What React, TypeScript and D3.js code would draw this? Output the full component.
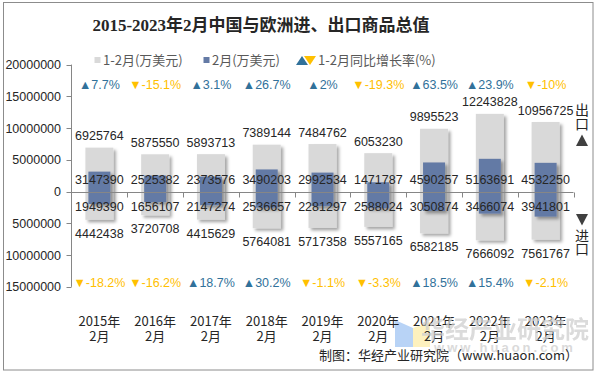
import React from "react";
import * as d3 from "d3";

const categories = ["2015年", "2016年", "2017年", "2018年", "2019年", "2020年", "2021年", "2022年", "2023年"];
const export12 = [6925764, 5875550, 5893713, 7389144, 7484762, 6053230, 9895523, 12243828, 10956725];
const export2 = [3147390, 2525382, 2373576, 3490203, 2992534, 1471787, 4590257, 5163691, 4532250];
const import2 = [1949390, 1656107, 2147274, 2536657, 2281297, 2588024, 3050874, 3466074, 3941801];
const import12 = [4442438, 3720708, 4415629, 5764081, 5717358, 5557165, 6582185, 7666092, 7561767];
const exportGrowth = [7.7, -15.1, 3.1, 26.7, 2, -19.3, 63.5, 23.9, -10];
const importGrowth = [-18.2, -16.2, 18.7, 30.2, -1.1, -3.3, 18.5, 15.4, -2.1];
const yTicks = [-15000000, -10000000, -5000000, 0, 5000000, 10000000, 15000000, 20000000];

const W = 597;
const H = 375;
const GRAY = "#d9d9d9";
const BLUE = "#647aa5";
const UP = "#31719a";
const DOWN = "#ffc000";
const NUM_FONT = "Arial, 'Liberation Sans', 'Noto Sans CJK SC', sans-serif";
const CJK_FONT = "'Noto Sans CJK SC', 'Liberation Sans', sans-serif";

export default function App() {
  const x = d3.scaleBand<string>().domain(categories).range([71.5, 573.5]).padding(0);
  const y = d3.scaleLinear().domain([-15000000, 20000000]).range([286.85, 64.6]);
  const y0 = y(0);
  const bw = x.bandwidth();
  const grayW = 28;
  const blueW = 22;

  const fmtG = (g: number) => (g >= 0 ? "▲" : "▼") + String(g) + "%";

  return (
    <svg width={W} height={H} style={{ position: "absolute", left: 0, top: 0, background: "#fff" }}>
      <defs>
        <filter id="sh" x="-30%" y="-30%" width="160%" height="160%">
          <feDropShadow dx="2.5" dy="2.5" stdDeviation="1.6" floodColor="#000" floodOpacity="0.35" />
        </filter>
      </defs>
      <rect x={0} y={0} width={W} height={H} fill="#fff" />
      <rect x={3.5} y={2.5} width={589.5} height={367.5} fill="none" stroke="#8c8c8c" strokeWidth={1} />

      {/* Title */}
      <text x={261} y={31} textAnchor="middle" fontSize={17} fontWeight="bold" fill="#262626"
        fontFamily="'Liberation Serif', 'Noto Sans CJK SC', serif">
        2015-2023年2月中国与欧洲进、出口商品总值
      </text>

      {/* Legend */}
      <g fontFamily={CJK_FONT} fontSize={13} fill="#595959">
        <rect x={94.5} y={57} width={6} height={6} fill={GRAY} />
        <text x={103} y={64.5}>1-2月(万美元)</text>
        <rect x={203.5} y={57} width={6} height={6} fill={BLUE} />
        <text x={212} y={64.5}>2月(万美元)</text>
        <path d="M296,65 L302,56 L308,65 Z" fill={UP} />
        <path d="M304,56 L316,56 L310,65 Z" fill={DOWN} />
        <text x={318} y={64.5}>1-2月同比增长率(%)</text>
      </g>

      {/* Watermark logo */}
      <g opacity={0.55}>
        <path d="M395,320 L413,328 L413,347 L395,347 Z" fill="#7fb0f0" />
        <path d="M413,328 L430,322 L430,347 L413,347 Z" fill="#fde68a" />
      </g>

      {/* Bars */}
      <g>
        {categories.map((c, i) => {
          const cx = (x(c) as number) + bw / 2;
          return (
            <g key={c} filter="url(#sh)">
              <rect x={cx - grayW / 2} y={y(export12[i])} width={grayW} height={y(-import12[i]) - y(export12[i])} fill={GRAY} />
            </g>
          );
        })}
        {categories.map((c, i) => {
          const cx = (x(c) as number) + bw / 2;
          return (
            <g key={c} filter="url(#sh)">
              <rect x={cx - blueW / 2} y={y(export2[i])} width={blueW} height={y(-import2[i]) - y(export2[i])} fill={BLUE} />
            </g>
          );
        })}
      </g>

      {/* Axes */}
      <g stroke="#868686" strokeWidth={1} fill="none">
        <line x1={71.5} x2={71.5} y1={y(20000000)} y2={y(-15000000)} />
        {yTicks.map((t) => (
          <line key={t} x1={66.5} x2={71.5} y1={Math.round(y(t)) + 0.5} y2={Math.round(y(t)) + 0.5} />
        ))}
        <line x1={71.5} x2={573.5} y1={Math.round(y0) + 0.5} y2={Math.round(y0) + 0.5} />
        {categories.map((c) => (
          <line key={c} x1={Math.round((x(c) as number) + bw) + 0.5} x2={Math.round((x(c) as number) + bw) + 0.5}
            y1={Math.round(y0) + 0.5} y2={Math.round(y0) + 5.5} />
        ))}
      </g>
      <g fontFamily={NUM_FONT} fontSize={12.5} fill="#262626" textAnchor="end">
        {yTicks.map((t) => (
          <text key={t} x={61} y={y(t) + 4.5}>{Math.abs(t)}</text>
        ))}
      </g>

      {/* Value labels */}
      <g fontFamily={NUM_FONT} fontSize={12.5} fill="#262626" textAnchor="middle">
        {categories.map((c, i) => {
          const cx = (x(c) as number) + bw / 2;
          return (
            <g key={c}>
              <text x={cx} y={y(export12[i]) - 7.5}>{export12[i]}</text>
              <text x={cx} y={183.8}>{export2[i]}</text>
              <text x={cx} y={210.5}>{import2[i]}</text>
              <text x={cx} y={y(-import12[i]) + 18}>{import12[i]}</text>
            </g>
          );
        })}
      </g>

      {/* Growth labels */}
      <g fontFamily={NUM_FONT} fontSize={12.5} textAnchor="middle">
        {categories.map((c, i) => {
          const cx = (x(c) as number) + bw / 2;
          return (
            <g key={c}>
              <text x={cx} y={88.8} fill={exportGrowth[i] >= 0 ? UP : DOWN}>{fmtG(exportGrowth[i])}</text>
              <text x={cx} y={287.2} fill={importGrowth[i] >= 0 ? UP : DOWN}>{fmtG(importGrowth[i])}</text>
            </g>
          );
        })}
      </g>

      {/* Category labels */}
      <g fontFamily={CJK_FONT} fontSize={13} fill="#262626" textAnchor="middle">
        {categories.map((c) => {
          const cx = (x(c) as number) + bw / 2;
          return (
            <g key={c}>
              <text x={cx} y={325.5}>{c}</text>
              <text x={cx} y={340.5}>2月</text>
            </g>
          );
        })}
      </g>

      {/* Right side export/import markers */}
      <g fontFamily={CJK_FONT} fontSize={14} fill="#262626" textAnchor="middle">
        <text x={582} y={115}>出</text>
        <text x={582} y={129}>口</text>
        <path d="M576,146 L582,134.5 L588,146 Z" fill="#404040" />
        <path d="M576,214 L588,214 L582,225.5 Z" fill="#404040" />
        <text x={582} y={241}>进</text>
        <text x={582} y={254}>口</text>
      </g>

      {/* Watermark text */}
      <text x={505} y={338} textAnchor="middle" fontFamily={CJK_FONT} fontSize={24} fontWeight="bold" fill="#cfcfcf" opacity={0.75}>
        华经产业研究院
      </text>
      <text x={505} y={352} textAnchor="middle" fontFamily={NUM_FONT} fontSize={13} fontWeight="bold" fill="#dadada" letterSpacing={3}>
        www.huaon.com
      </text>

      {/* Source */}
      <text x={578} y={360} textAnchor="end" fontFamily={CJK_FONT} fontSize={13} fill="#262626">
        制图：华经产业研究院（www.huaon.com）
      </text>
    </svg>
  );
}
